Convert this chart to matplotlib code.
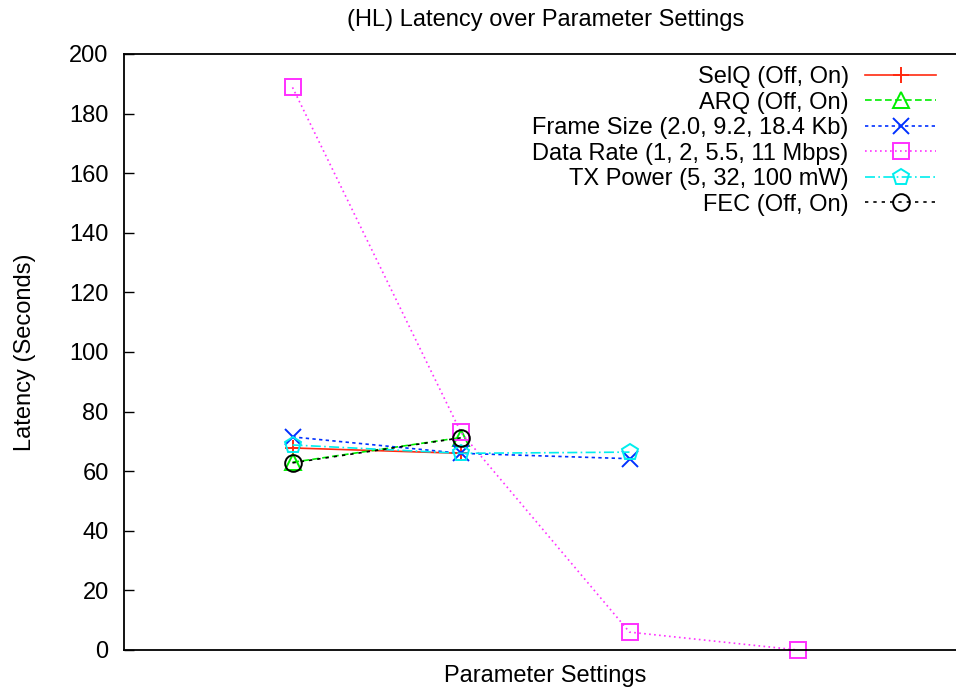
import matplotlib
matplotlib.use("Agg")
import matplotlib.pyplot as plt

plt.rcParams["font.family"] = ["Liberation Sans", "DejaVu Sans"]

# Latency (seconds) per parameter setting index
selq_x = [1, 2]
selq_y = [67.8, 66.0]
arq_x = [1, 2]
arq_y = [63.0, 71.3]
frame_x = [1, 2, 3]
frame_y = [71.5, 66.0, 64.2]
rate_x = [1, 2, 3, 4]
rate_y = [188.8, 73.0, 6.0, 0.0]
txp_x = [1, 2, 3]
txp_y = [68.8, 66.0, 66.4]
fec_x = [1, 2]
fec_y = [62.8, 71.2]

series = [
    (selq_x, selq_y, "SelQ (Off, On)", "#ff2a10", "-", "+"),
    (arq_x, arq_y, "ARQ (Off, On)", "#00ee00", (0, (4, 2)), "^"),
    (frame_x, frame_y, "Frame Size (2.0, 9.2, 18.4 Kb)", "#0030ff", (0, (2, 2)), "x"),
    (rate_x, rate_y, "Data Rate (1, 2, 5.5, 11 Mbps)", "#ff30ff", (0, (1, 2)), "s"),
    (txp_x, txp_y, "TX Power (5, 32, 100 mW)", "#00eeee", (0, (6, 2, 1, 2)), "p"),
    (fec_x, fec_y, "FEC (Off, On)", "black", (0, (2, 3)), "o"),
]

FS = 17

fig = plt.figure(figsize=(9.56, 6.91), dpi=100)
ax = fig.add_axes([124 / 956, 41 / 691, 842.5 / 956, 596 / 691])

for xs, ys, label, color, ls, mk in series:
    ax.plot(xs, ys, color=color, linestyle=ls, linewidth=1.2, marker=mk,
            markersize=12, markerfacecolor="none", markeredgecolor=color,
            markeredgewidth=1.4, label=label, clip_on=False)

ax.set_xlim(0, 5)
ax.set_ylim(0, 200)
ax.set_yticks(range(0, 201, 20))
ax.set_xticks([])
ax.tick_params(axis="y", direction="in", length=7, width=1, pad=11, labelsize=FS)
for side in ["top", "bottom", "left"]:
    ax.spines[side].set_linewidth(1.3)
ax.spines["right"].set_visible(False)

ax.set_title("(HL) Latency over Parameter Settings", fontsize=FS, pad=20)
ax.set_xlabel("Parameter Settings", fontsize=FS, labelpad=11)
ax.set_ylabel("Latency (Seconds)", fontsize=FS, labelpad=24)

ax.legend(loc="upper right", bbox_to_anchor=(936 / 956, 1 - 66 / 691),
          bbox_transform=fig.transFigure, frameon=False, markerfirst=False,
          fontsize=FS, handlelength=3.0, handletextpad=0.7,
          labelspacing=0.15, borderpad=0, borderaxespad=0)

fig.savefig("out.png", dpi=100)
